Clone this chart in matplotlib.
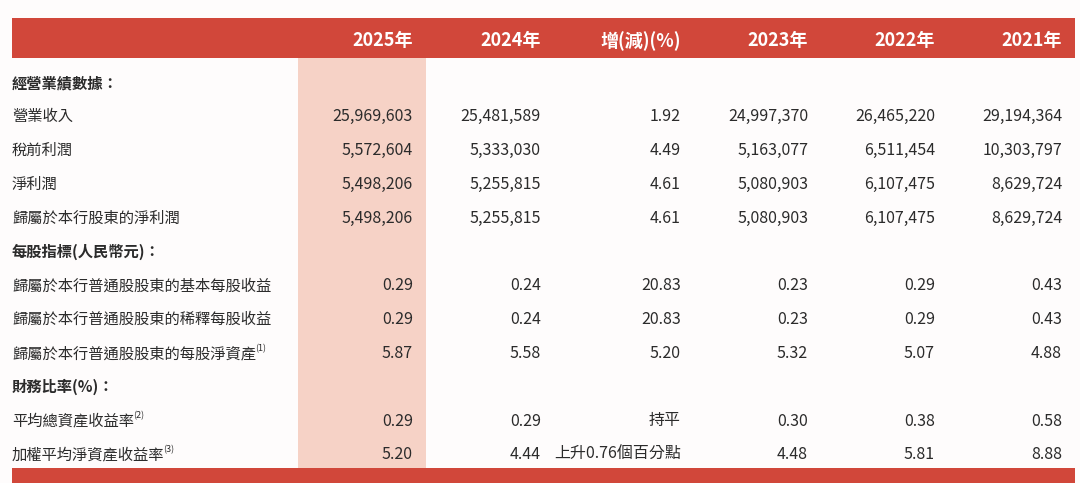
"""Key financial data table (2021-2025) rendered as a matplotlib figure."""

import matplotlib

matplotlib.use("Agg")
import matplotlib.pyplot as plt
from matplotlib.patches import Rectangle

plt.rcParams["font.family"] = ["Noto Sans CJK TC", "DejaVu Sans"]

RED = "#d1473a"
PINK = "#f6d2c6"
TEXT = "#2b2b2b"

columns = ["2025年", "2024年", "增(減)(%)", "2023年", "2022年", "2021年"]

row_labels = [
    "經營業績數據：",
    "營業收入",
    "稅前利潤",
    "淨利潤",
    "歸屬於本行股東的淨利潤",
    "每股指標(人民幣元)：",
    "歸屬於本行普通股股東的基本每股收益",
    "歸屬於本行普通股股東的稀釋每股收益",
    "歸屬於本行普通股股東的每股淨資產",
    "財務比率(%)：",
    "平均總資產收益率",
    "加權平均淨資產收益率",
]
section_rows = [0, 5, 9]
footnotes = {8: "(1)", 10: "(2)", 11: "(3)"}

col_2025 = ["", "25,969,603", "5,572,604", "5,498,206", "5,498,206", "", "0.29", "0.29", "5.87", "", "0.29", "5.20"]
col_2024 = ["", "25,481,589", "5,333,030", "5,255,815", "5,255,815", "", "0.24", "0.24", "5.58", "", "0.29", "4.44"]
col_change = ["", "1.92", "4.49", "4.61", "4.61", "", "20.83", "20.83", "5.20", "", "持平", "上升0.76個百分點"]
col_2023 = ["", "24,997,370", "5,163,077", "5,080,903", "5,080,903", "", "0.23", "0.23", "5.32", "", "0.30", "4.48"]
col_2022 = ["", "26,465,220", "6,511,454", "6,107,475", "6,107,475", "", "0.29", "0.29", "5.07", "", "0.38", "5.81"]
col_2021 = ["", "29,194,364", "10,303,797", "8,629,724", "8,629,724", "", "0.43", "0.43", "4.88", "", "0.58", "8.88"]

table_cols = [col_2025, col_2024, col_change, col_2023, col_2022, col_2021]

# layout in pixel units
W, H = 1080, 483
col_right = [413, 541, 681, 808, 935, 1062]
first_row_y = 83
row_step = 33.8
label_x = 12

fig = plt.figure(figsize=(W / 100, H / 100), dpi=100)
fig.patch.set_facecolor("#fefcfc")
ax = fig.add_axes([0, 0, 1, 1])
ax.set_xlim(0, W)
ax.set_ylim(H, 0)
ax.axis("off")

# header band, highlighted 2025 column and footer band
ax.add_patch(Rectangle((12, 18), 1063, 40, color=RED, lw=0))
ax.add_patch(Rectangle((298, 58), 128, 410, color=PINK, lw=0))
ax.add_patch(Rectangle((12, 468), 1063, 20, color=RED, lw=0))

for right, name in zip(col_right, columns):
    ax.text(right, 41, name, ha="right", va="center", color="white",
            fontsize=13, fontweight="bold")

fig.canvas.draw()
renderer = fig.canvas.get_renderer()

for i, label in enumerate(row_labels):
    y = first_row_y + i * row_step
    bold = i in section_rows
    txt = ax.text(label_x, y, label, ha="left", va="center", color=TEXT,
                  fontsize=11, fontweight="bold" if bold else "normal")
    if i in footnotes:
        x_end = txt.get_window_extent(renderer=renderer).x1
        ax.text(x_end - 1, y - 5, footnotes[i], ha="left", va="center",
                color=TEXT, fontsize=6.5)
    for right, values in zip(col_right, table_cols):
        ax.text(right, y, values[i], ha="right", va="center", color=TEXT,
                fontsize=11.5)

fig.savefig("out.png", dpi=100, facecolor=fig.get_facecolor())
plt.close(fig)
